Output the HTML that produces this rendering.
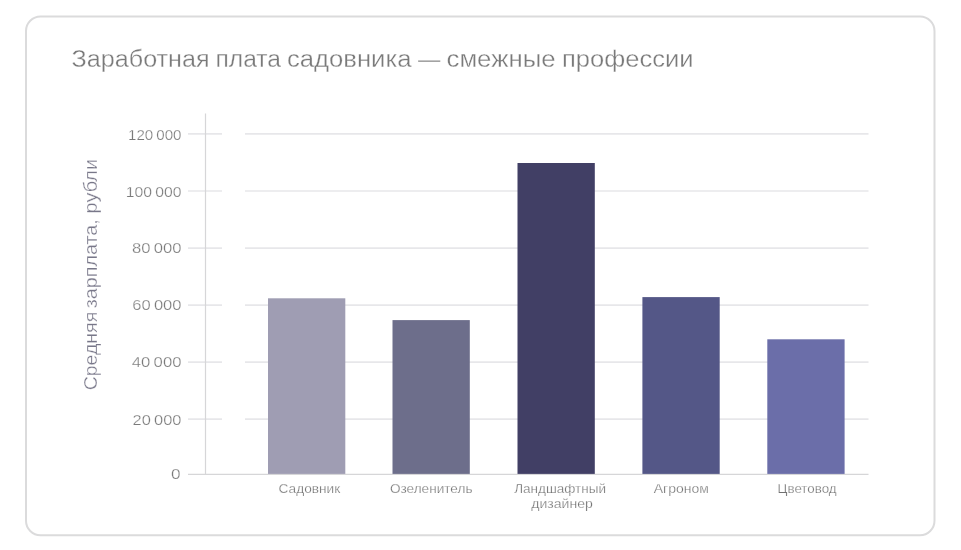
<!DOCTYPE html>
<html lang="ru">
<head>
<meta charset="utf-8">
<title>Заработная плата садовника — смежные профессии</title>
<style>
  html, body { margin: 0; padding: 0; background: #ffffff; }
  body { width: 961px; height: 550px; overflow: hidden; position: relative;
         font-family: "Liberation Sans", sans-serif; }
  .card { position: absolute; left: 25px; top: 16px; width: 906px; height: 516px;
          border: 2px solid #dcdcdc; border-radius: 17px; background: #fff; }
  svg { position: absolute; left: 0; top: 0; will-change: transform; }
  text { font-family: "Liberation Sans", sans-serif; }
</style>
</head>
<body>
<svg width="961" height="550" viewBox="0 0 961 550">
  <rect x="26" y="16.5" width="908.5" height="518.8" rx="14.5" ry="14.5" fill="#ffffff" stroke="#dbdbdc" stroke-width="2"/>
  <!-- title -->
  <g id="title" font-size="23" fill="#7a7a7a" stroke="#ffffff" stroke-width="0.3">
    <text x="71.6" y="66.6" textLength="138" lengthAdjust="spacingAndGlyphs">Заработная</text>
    <text x="215.5" y="66.6" textLength="65.5" lengthAdjust="spacingAndGlyphs">плата</text>
    <text x="287" y="66.6" textLength="124.5" lengthAdjust="spacingAndGlyphs">садовника</text>
    <text x="418" y="66.6" textLength="22.3" lengthAdjust="spacingAndGlyphs">—</text>
    <text x="446.5" y="66.6" textLength="109" lengthAdjust="spacingAndGlyphs">смежные</text>
    <text x="562" y="66.6" textLength="131.5" lengthAdjust="spacingAndGlyphs">профессии</text>
  </g>

  <!-- grid lines -->
  <g stroke="#e7e7ea" stroke-width="1.7">
    <line x1="245" y1="133.9" x2="868.5" y2="133.9"/>
    <line x1="245" y1="191.0" x2="868.5" y2="191.0"/>
    <line x1="245" y1="248.1" x2="868.5" y2="248.1"/>
    <line x1="245" y1="305.1" x2="868.5" y2="305.1"/>
    <line x1="245" y1="362.1" x2="868.5" y2="362.1"/>
    <line x1="245" y1="419.1" x2="868.5" y2="419.1"/>
  </g>
  <!-- ticks -->
  <g stroke="#e7e7ea" stroke-width="1.7">
    <line x1="188" y1="133.9" x2="222" y2="133.9"/>
    <line x1="188" y1="191.0" x2="222" y2="191.0"/>
    <line x1="188" y1="248.1" x2="222" y2="248.1"/>
    <line x1="188" y1="305.1" x2="222" y2="305.1"/>
    <line x1="188" y1="362.1" x2="222" y2="362.1"/>
    <line x1="188" y1="419.1" x2="222" y2="419.1"/>
  </g>
  <!-- axes -->
  <line x1="205.5" y1="113.5" x2="205.5" y2="474.5" stroke="#d6d6d8" stroke-width="1.2"/>
  <line x1="188" y1="474.4" x2="868.5" y2="474.4" stroke="#d6d6d8" stroke-width="1.4"/>

  <!-- bars -->
  <rect x="268" y="298.3" width="77.3" height="175.6" fill="#9f9db3"/>
  <rect x="392.5" y="320.1" width="77.3" height="153.8" fill="#6d6e8b"/>
  <rect x="517.5" y="163" width="77.3" height="310.9" fill="#413f65"/>
  <rect x="642.4" y="297.1" width="77.3" height="176.8" fill="#545787"/>
  <rect x="767.3" y="339.3" width="77.3" height="134.6" fill="#6b6ea9"/>

  <!-- y tick labels -->
  <g font-size="14" fill="#7a7a7a" stroke="#ffffff" stroke-width="0.25" text-anchor="end" style="word-spacing:-1.1px">
    <text x="181.5" y="139.6" textLength="53.5" lengthAdjust="spacingAndGlyphs">120 000</text>
    <text x="181.5" y="196.7" textLength="55.7" lengthAdjust="spacingAndGlyphs">100 000</text>
    <text x="181.5" y="253.1" textLength="49.6" lengthAdjust="spacingAndGlyphs">80 000</text>
    <text x="181.5" y="310.1" textLength="49.3" lengthAdjust="spacingAndGlyphs">60 000</text>
    <text x="181.5" y="366.9" textLength="49.8" lengthAdjust="spacingAndGlyphs">40 000</text>
    <text x="181.5" y="424.5" textLength="49" lengthAdjust="spacingAndGlyphs">20 000</text>
    <text x="180.6" y="478.9" textLength="9.6" lengthAdjust="spacingAndGlyphs">0</text>
  </g>

  <!-- x labels -->
  <g font-size="13" fill="#717171" stroke="#ffffff" stroke-width="0.25">
    <text x="278.6" y="493" textLength="61.6" lengthAdjust="spacingAndGlyphs">Садовник</text>
    <text x="389.9" y="493" textLength="82.6" lengthAdjust="spacingAndGlyphs">Озеленитель</text>
    <text x="514.2" y="493" textLength="91.8" lengthAdjust="spacingAndGlyphs">Ландшафтный</text>
    <text x="531.3" y="507.6" textLength="61.5" lengthAdjust="spacingAndGlyphs">дизайнер</text>
    <text x="653.8" y="493" textLength="55.1" lengthAdjust="spacingAndGlyphs">Агроном</text>
    <text x="777.6" y="493" textLength="59" lengthAdjust="spacingAndGlyphs">Цветовод</text>
  </g>

  <!-- y axis label -->
  <g font-size="18" fill="#787789" stroke="#ffffff" stroke-width="0.3">
    <text transform="translate(96.8 390.3) rotate(-90)" textLength="78.5" lengthAdjust="spacingAndGlyphs">Средняя</text>
    <text transform="translate(96.8 308.2) rotate(-90)" textLength="89" lengthAdjust="spacingAndGlyphs">зарплата,</text>
    <text transform="translate(96.8 213.4) rotate(-90)" textLength="54.5" lengthAdjust="spacingAndGlyphs">рубли</text>
  </g>
</svg>
</body>
</html>
